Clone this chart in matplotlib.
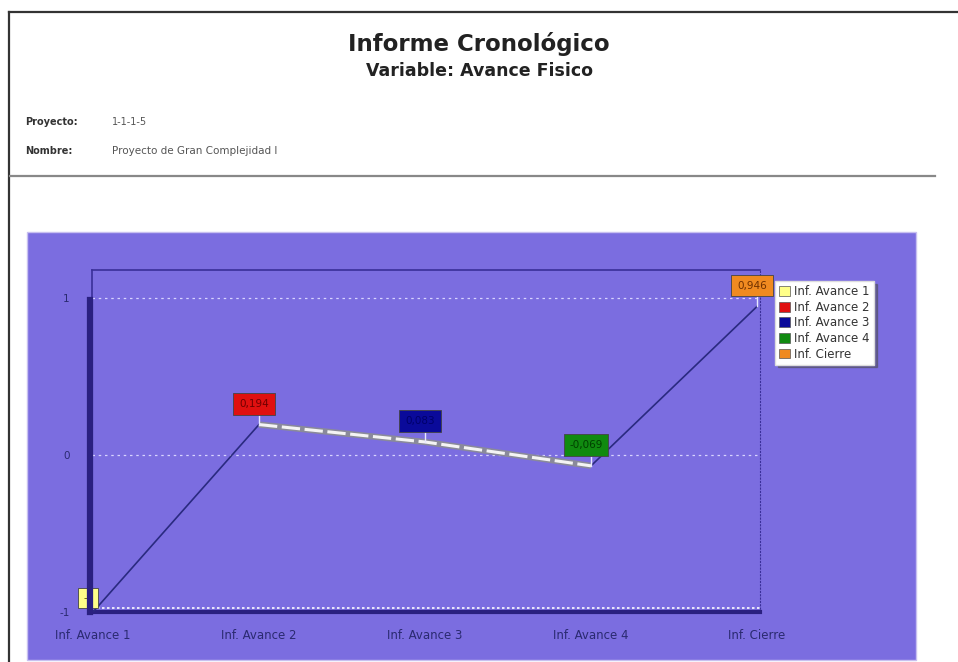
import matplotlib.pyplot as plt
from matplotlib.patches import Rectangle
from matplotlib.lines import Line2D

# chronological report data
informes = ["Inf. Avance 1", "Inf. Avance 2", "Inf. Avance 3", "Inf. Avance 4", "Inf. Cierre"]
avance = [-1.0, 0.194, 0.083, -0.069, 0.946]
etiquetas = ["-1", "0,194", "0,083", "-0,069", "0,946"]
colores = ["#ffff88", "#e01010", "#0a0a9a", "#108a10", "#f08a20"]
texto_etiqueta = ["#555500", "#700000", "#00006a", "#004000", "#703000"]

W, H = 958, 662
fig = plt.figure(figsize=(W / 100, H / 100), dpi=100)
fig.patch.set_facecolor("white")


def fx(px):
    return px / W


def fy(py):
    return 1 - py / H


# page frame and header
fig.add_artist(Line2D([fx(9), fx(9)], [fy(12), fy(662)], color="#333333", lw=1.6))
fig.add_artist(Line2D([fx(9), fx(958)], [fy(12), fy(12)], color="#333333", lw=1.6))
fig.add_artist(Line2D([fx(10), fx(935)], [fy(176), fy(176)], color="#888888", lw=1.6))

fig.text(0.5, fy(44), "Informe Cronológico", ha="center", va="center",
         fontsize=16.5, fontweight="bold", color="#222222")
fig.text(0.5, fy(71), "Variable: Avance Fisico", ha="center", va="center",
         fontsize=12.5, fontweight="bold", color="#222222")
fig.text(fx(25), fy(122), "Proyecto:", ha="left", va="center", fontsize=7,
         fontweight="bold", color="#333333")
fig.text(fx(112), fy(122), "1-1-1-5", ha="left", va="center", fontsize=7, color="#555555")
fig.text(fx(25), fy(151), "Nombre:", ha="left", va="center", fontsize=7,
         fontweight="bold", color="#333333")
fig.text(fx(112), fy(151), "Proyecto de Gran Complejidad I", ha="left", va="center",
         fontsize=7.5, color="#555555")

# purple chart panel
fig.add_artist(Rectangle((fx(27), fy(660)), fx(916 - 27), (660 - 232) / H,
                         facecolor="#7b6de0", edgecolor="#c8c0f0", lw=1.0, zorder=0))

ax = fig.add_axes([fx(92), fy(612), fx(760 - 92), (612 - 270) / H])
ax.set_facecolor("#7b6de0")
ax.set_xlim(-1 / 166, (760 - 93) / 166)
ax.set_ylim(-1.0, -1.0 + 342 / 157)
for side in ["top", "left"]:
    ax.spines[side].set_color("#3a2f99")
    ax.spines[side].set_linewidth(1.2)
ax.spines["right"].set_color("#3a2f99")
ax.spines["right"].set_linestyle((0, (1, 2)))
ax.spines["bottom"].set_color("#2a2080")
ax.spines["bottom"].set_linewidth(3)

# horizontal gridlines
for yv in [1, 0]:
    ax.axhline(yv, color="#d8d4ff", lw=0.9, ls=(0, (2, 3)), zorder=1)
ax.axhline(-0.975, color="white", lw=1.2, ls=(0, (1.5, 1.5)), zorder=2)

ax.set_xticks(range(len(informes)))
ax.set_xticklabels(informes, fontsize=8.5, color="#2a2a70")
ax.set_yticks([-1, 0, 1])
ax.set_yticklabels(["-1", "0", "1"], fontsize=7.5, color="#2a2a70")
ax.tick_params(length=0, pad=14)
ax.tick_params(axis="x", pad=12)
ax.tick_params(axis="y", pad=16)

# left 3D wall bar
fig.add_artist(Line2D([fx(90), fx(90)], [fy(300), fy(612)], color="#2a2080", lw=4.5, zorder=3))

x = list(range(len(avance)))
# outer segments: thin dark lines
ax.plot(x[0:2], avance[0:2], color="#2a2a80", lw=1.2, zorder=3)
ax.plot(x[3:5], avance[3:5], color="#2a2a80", lw=1.2, zorder=3)
# middle segments: light ribbon
ax.plot(x[1:4], avance[1:4], color="#8a8a9a", lw=4.5, zorder=3, solid_capstyle="butt")
ax.plot(x[1:4], avance[1:4], color="#f4f4f4", lw=2.2, zorder=4, ls=(0, (6, 1.5)))

# value labels with stems
stem = 0.065
for xi, yi, txt, c, tc in zip(x, avance, etiquetas, colores, texto_etiqueta):
    box = dict(boxstyle="square,pad=0.55", fc=c, ec="#444444", lw=0.6)
    if xi == 0:
        ax.annotate(txt, (xi, yi), xytext=(xi - 0.03, yi + 0.09), ha="center", va="center",
                    fontsize=7, color=tc, zorder=6, bbox=box)
        continue
    ax.plot([xi, xi], [yi, yi + stem], color="#e8e8ff", lw=1.0, zorder=5)
    ax.annotate(txt, (xi - 0.03, yi + stem), xytext=(0, 4), textcoords="offset points",
                ha="center", va="bottom", fontsize=7.5, color=tc, zorder=6, bbox=box)

# legend
leg_handles = [Rectangle((0, 0), 1, 1, fc=c, ec="#555555", lw=0.5) for c in colores]
leg = fig.legend(leg_handles, informes, loc="upper left",
                 bbox_to_anchor=(fx(775), fy(281)), fontsize=8.5, frameon=True,
                 fancybox=False, shadow=True, handlelength=0.9, handleheight=0.9,
                 handletextpad=0.4, labelspacing=0.22, borderpad=0.35,
                 borderaxespad=0)
leg.get_frame().set_edgecolor("#dddddd")
leg.get_frame().set_facecolor("white")
for t in leg.get_texts():
    t.set_color("#333333")

fig.savefig("out.png", dpi=100)
